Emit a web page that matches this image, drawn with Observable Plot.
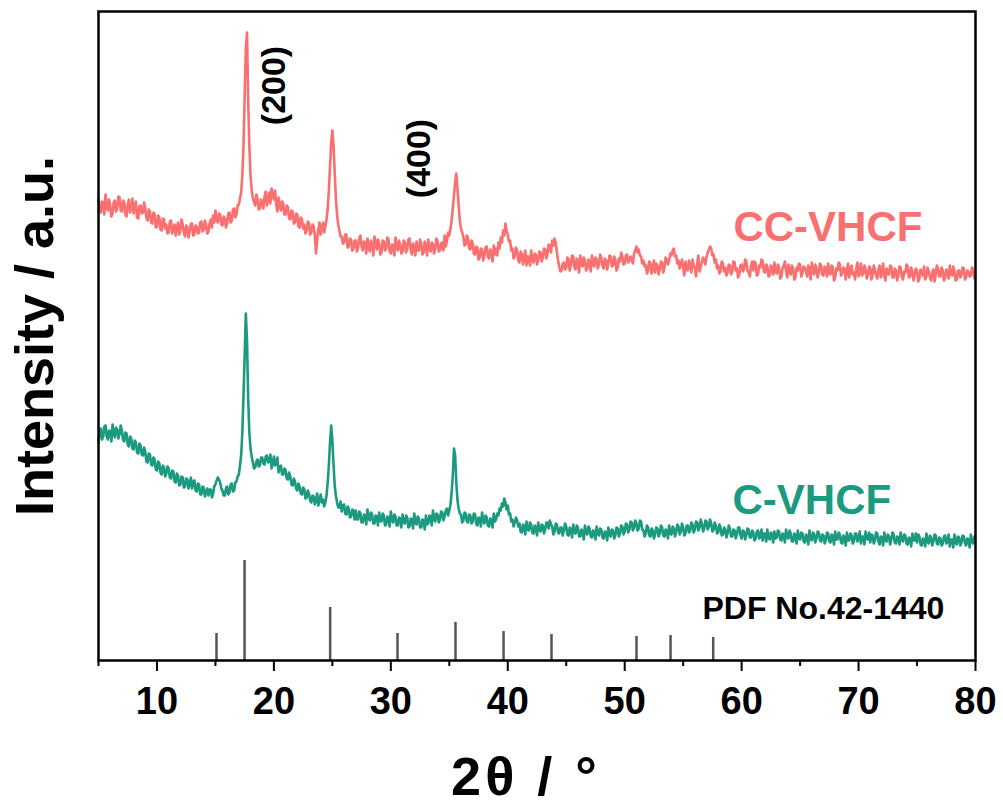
<!DOCTYPE html>
<html><head><meta charset="utf-8">
<script src="https://cdn.jsdelivr.net/npm/d3@7"></script>
<script src="https://cdn.jsdelivr.net/npm/@observablehq/plot@0.6"></script>
<style>body{margin:0;background:#fff}</style>
</head><body><div id="chart"></div>
<script>
// 2θ sampling: each row covers 2°, starting at 5° + 2°·row, values every 0.1°
const startAngle = 5;
const rowSpan = 2;
const stepAngle = 0.1;

// CC-VHCF intensities (a.u., offset trace)
const ccVHCF = [
[462,451,448,459,458,446,466,455,450,461,455,444,447,458,460,449,452,464,463,450],
[449,460,458,446,444,456,461,448,453,462,447,455,459,443,442,454,455,447,448,458],
[452,443,440,451,449,438,437,448,446,433,434,445,443,431,430,442,441,432,436,427],
[428,439,440,427,431,436,425,433,438,426,430,441,436,428,424,435,433,423,429,437],
[437,425,426,435,434,427,428,438,439,429,431,440,436,427,429,437,441,433,445,438],
[450,441,438,447,446,436,435,444,442,433,437,447,448,438,440,451,452,443,446,455],
[456,462,468,485,515,565,612,628,560,515,485,470,463,458,455,466,462,451,452,461],
[458,452,464,469,455,461,468,457,472,466,461,470,456,449,463,455,450,459,457,446],
[446,455,453,442,441,450,449,437,438,447,446,434,433,443,441,432,436,427,430,439],
[437,426,428,436,434,425,407,420,431,438,426,433,438,428,434,441,452,470,495,518],
[530,515,488,462,446,436,430,424,424,417,418,426,426,413,414,422,421,410,412,420],
[420,409,413,422,425,414,410,419,418,407,422,413,409,420,416,405,424,417,411,421],
[417,406,408,420,419,410,412,423,421,409,407,416,415,405,423,414,410,420,416,407],
[409,420,418,408,412,421,422,411,406,417,414,405,419,410,410,421,417,406,408,419],
[415,405,421,412,409,418,416,407,412,422,419,409,410,417,418,410,425,414,420,428],
[425,432,440,452,465,478,487,472,455,440,432,428,424,415,416,425,422,412,411,420],
[417,407,406,414,413,401,403,412,411,400,405,413,414,404,402,411,409,399,415,406],
[412,405,418,412,423,418,430,425,437,430,426,419,420,410,412,402,405,413,410,400],
[398,409,407,396,401,410,395,404,404,395,410,401,398,407,406,396,400,409,408,399],
[403,412,411,402,407,416,414,408,420,415,422,418,408,400,394,389,390,397,398,391],
[393,403,401,390,396,405,404,393,391,402,399,388,405,397,394,403,400,390,392,401],
[398,389,405,397,394,403,401,392,396,406,403,395,392,402,400,391,397,405,404,394],
[395,404,401,390,393,402,399,408,404,396,397,405,406,398,400,404,401,397,407,410],
[414,408,411,405,404,397,400,394,396,387,390,399,397,387,392,400,388,397,395,386],
[391,399,398,388,393,403,400,396,401,407,405,410,412,404,405,397,400,392,396,401],
[393,385,399,392,390,400,396,388,401,395,392,384,397,405,389,394,398,403,400,396],
[404,408,411,414,412,405,406,398,401,392,395,387,390,399,397,389,393,385,388,396],
[395,386,389,399,398,390,392,383,386,395,396,389,391,401,399,390,388,384,394,399],
[390,399,397,385,386,395,393,401,399,389,388,396,394,384,385,395,392,386,398,389],
[387,396,393,382,384,392,395,399,389,383,396,390,386,395,392,381,383,393,390,397],
[396,384,387,394,393,389,384,395,391,381,398,390,386,396,392,383,388,397,395,386],
[385,394,391,384,397,388,386,395,393,380,383,392,390,398,396,385,387,393,392,381],
[389,397,383,391,395,386,388,381,392,398,384,390,397,385,387,395,391,382,385,394],
[393,381,386,395,390,385,382,391,395,383,388,397,384,380,392,387,386,395,394,383],
[383,392,390,380,385,394,393,384,381,389,388,396,394,383,384,393,389,380,386,392],
[390,379,382,391,388,385,394,381,384,393,389,383,380,388,391,379,386,395,392,384],
[384,393,390,380,383,391,388,382,395,386,385,394,389,380,381,390,390,383,386,393],
[392,381,383,390,389,384,385,393,391,382,387]
];

// C-VHCF intensities (a.u.)
const cVHCF = [
[218,229,232,221,224,234,235,224,221,230,229,219,236,227,223,233,231,222,226,235],
[230,221,219,228,227,216,214,224,222,212,211,220,218,208,207,217,215,206,205,213],
[209,199,198,207,206,196,195,203,201,191,190,199,197,188,186,195,193,184,187,194],
[192,183,182,190,189,179,178,187,185,175,176,184,183,173,174,182,181,172,177,183],
[172,179,180,170,169,177,176,166,166,174,173,164,168,172,165,171,171,163,167,174],
[176,180,183,181,178,172,170,165,165,172,174,166,168,176,177,169,170,178,179,184],
[186,195,205,228,265,305,347,320,262,228,212,204,198,192,193,199,201,194,195,203],
[203,197,196,204,205,198,199,206,192,197,204,195,197,203,188,193,195,186,186,192],
[190,182,181,188,184,176,175,182,179,172,170,177,174,167,166,173,171,162,163,170],
[167,160,158,165,164,156,160,167,155,161,166,158,161,154,158,165,178,195,218,235],
[220,196,175,165,158,153,153,159,149,155,156,147,146,154,152,143,144,151,150,141],
[150,141,141,149,147,138,138,146,145,136,151,143,140,148,146,137,137,145,144,135],
[148,140,139,147,145,135,136,144,143,134,149,141,138,146,144,135,135,143,142,133],
[146,138,137,145,143,133,134,142,141,132,147,139,136,144,142,133,133,141,140,131],
[145,136,137,145,144,135,150,142,139,147,146,138,141,149,148,140,144,150,152,145],
[150,156,168,185,212,205,178,160,152,147,146,138,140,148,147,139,138,146,145,137],
[139,147,146,137,135,143,142,134,148,140,137,145,143,135,134,142,141,133,147,139],
[141,147,145,152,150,157,154,162,158,151,155,146,147,139,141,134,138,143,140,134],
[137,129,128,136,134,126,139,131,130,138,136,128,127,135,133,125,138,131,129,136],
[135,127,131,138,138,132,140,136,134,126,129,137,136,128,127,133,133,125,130,137],
[134,126,125,133,131,123,136,128,127,135,133,124,124,131,130,121,135,128,126,134],
[132,124,123,130,129,121,134,127,125,132,131,123,122,129,128,120,133,126,124,131],
[130,122,125,133,132,124,127,135,134,126,129,137,136,128,131,139,138,130,133,140],
[137,130,132,140,139,131,130,124,127,135,133,125,124,132,130,122,126,133,132,124],
[127,135,133,125,124,131,130,122,135,127,126,134,132,124,128,136,134,126,129,137],
[133,125,127,135,135,128,130,138,136,128,131,139,138,130,133,141,137,129,132,140],
[139,131,134,141,137,129,131,138,135,127,128,136,133,125,126,133,131,123,127,135],
[132,124,124,131,130,122,126,133,133,125,122,130,129,121,125,132,131,123,123,130],
[128,120,122,129,130,122,124,131,120,127,127,119,131,123,121,128,126,118,129,122],
[123,130,129,121,120,127,126,118,131,124,122,130,127,119,119,127,125,117,130,122],
[121,128,127,119,118,126,124,116,130,122,120,128,126,118,122,129,128,120,119,126],
[125,117,120,128,127,119,118,126,124,116,129,121,121,128,126,118,117,125,123,115],
[128,120,120,127,125,117,119,127,127,119,122,129,117,124,124,116,129,122,121,128],
[118,126,125,117,120,128,127,119,116,124,123,115,128,120,119,126,124,116,121,128],
[126,118,117,124,123,116,128,121,119,126,125,117,116,123,122,114,127,120,120,127],
[118,126,124,116,115,122,121,114,127,119,117,125,123,115,119,126,125,117,116,123],
[122,115,117,124,125,117,119,126,114,121,121,113,126,119,116,124,123,115,118,125],
[124,117,115,122,121,113,126,119,117,124,122]
];

// PDF No.42-1440 reference reflections
const pdfAngles = [15.09, 17.49, 24.81, 30.57, 35.53, 39.64, 43.74, 51.01, 53.92, 57.57];
const pdfHeights = [27, 100, 53, 27, 38, 29, 26, 24, 25, 23];

const majorTicks = [10, 20, 30, 40, 50, 60, 70, 80];
const minorTicks = [5, 15, 25, 35, 45, 55, 65, 75];

function toTable(rows) {
  const out = [];
  rows.forEach((row, r) => row.forEach((v, j) => out.push({x: +(startAngle + r * rowSpan + j * stepAngle).toFixed(2), y: v})));
  return out;
}
const ccTable = toTable(ccVHCF);
const cTable = toTable(cVHCF);
const pdfTable = pdfAngles.map((a, i) => ({x: a, h: pdfHeights[i]}));

const red = "#fa6f6f";
const teal = "#1b9a80";
const xTitle = "2θ / °";

const chart = Plot.plot({
  width: 1003,
  height: 805,
  marginTop: 11,
  marginBottom: 145,
  marginLeft: 98,
  marginRight: 28,
  x: {domain: [5, 80], label: null},
  y: {domain: [0, 649], axis: null, label: null},
  style: {fontFamily: "'Liberation Sans', Arial, sans-serif", fontWeight: "bold", background: "#fff", color: "#000", overflow: "visible"},
  marks: [
    Plot.ruleX(pdfTable, {x: "x", y1: 0, y2: "h", stroke: "#555", strokeWidth: 2.5}),
    Plot.line(ccTable, {x: "x", y: "y", stroke: red, strokeWidth: 2.6}),
    Plot.line(cTable, {x: "x", y: "y", stroke: teal, strokeWidth: 2.6}),
    Plot.frame({stroke: "#000", strokeWidth: 2.5}),
    Plot.axisX(minorTicks, {tickSize: 6, strokeWidth: 2, tickFormat: () => "", label: null}),
    Plot.axisX(majorTicks, {tickSize: 11, strokeWidth: 2, tickPadding: 16, fontSize: 38, fill: "#000", label: null}),
    Plot.text([xTitle], {text: d => d, frameAnchor: "bottom", textAnchor: "middle", dy: 134, dx: -11, fontSize: 54, fill: "#000"}),
    Plot.text(["Intensity / a.u."], {text: d => d, frameAnchor: "left", textAnchor: "middle", lineAnchor: "middle", rotate: -90, dx: -63, fontSize: 54, fill: "#000"}),
    Plot.text(["(200)"], {text: d => d, x: 20.0, y: 575, rotate: -90, fontSize: 34, fill: "#000"}),
    Plot.text(["(400)"], {text: d => d, x: 32.4, y: 502, rotate: -90, fontSize: 34, fill: "#000"}),
    Plot.text(["CC-VHCF"], {text: d => d, x: 59.3, y: 420, textAnchor: "start", lineAnchor: "bottom", fontSize: 42, fill: red}),
    Plot.text(["C-VHCF"], {text: d => d, x: 59.22, y: 147, textAnchor: "start", lineAnchor: "bottom", fontSize: 42, fill: teal}),
    Plot.text(["PDF No.42-1440"], {text: d => d, x: 56.65, y: 42, textAnchor: "start", lineAnchor: "bottom", fontSize: 32, fill: "#000"})
  ]
});
d3.select(chart).selectAll("text").filter(function () { return this.textContent === xTitle; }).attr("letter-spacing", "4px");
document.getElementById("chart").appendChild(chart);
</script>
</body></html>
